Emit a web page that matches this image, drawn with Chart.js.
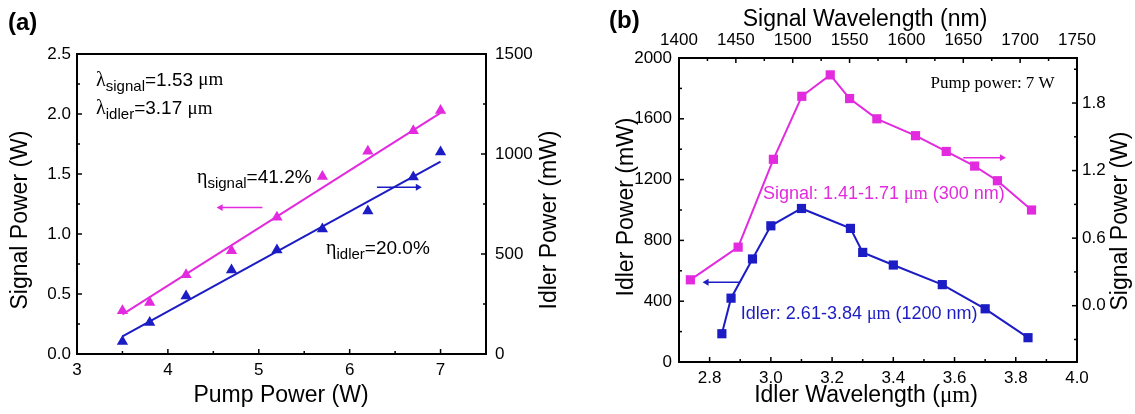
<!DOCTYPE html>
<html>
<head>
<meta charset="utf-8">
<script src="https://cdn.jsdelivr.net/npm/chart.js@4.4.1/dist/chart.umd.min.js"></script>
<style>
  body { margin: 0; background: #fff; }
  #wrap { position: relative; width: 1135px; height: 414px; }
  canvas { position: absolute; top: 0; }
</style>
</head>
<body>
<div id="wrap">
  <canvas id="chartA" width="565" height="414" style="left:0"></canvas>
  <canvas id="chartB" width="570" height="414" style="left:565px"></canvas>
</div>
<script>
// --- panel (a): power vs pump power ---
const pumpPower = [3.5, 3.8, 4.2, 4.7, 5.2, 5.7, 6.2, 6.7, 7.0];
const signalPowerA = [0.36, 0.43, 0.66, 0.86, 1.14, 1.48, 1.69, 1.86, 2.03];
const idlerPowerA = [63, 157, 290, 420, 520, 625, 715, 885, 1010];
const fitPump = [3.5, 7.0];
const fitSignal = [0.33, 2.01];
const fitIdler = [88, 962];
const arrowSignalAX = [5.04, 4.58];
const arrowSignalAY = [1.22, 1.22];
const arrowIdlerAX = [6.30, 6.75];
const arrowIdlerAY = [834, 834];

// --- panel (b): tuning curves ---
const signalWavelength = [1410, 1452, 1483, 1508, 1533, 1550, 1574, 1608, 1635, 1660, 1680, 1710];
const signalPowerB = [0.23, 0.52, 1.30, 1.86, 2.05, 1.84, 1.66, 1.51, 1.37, 1.24, 1.11, 0.85];
const idlerWavelength = [2.84, 2.87, 2.94, 3.00, 3.10, 3.26, 3.30, 3.40, 3.56, 3.70, 3.84];
const idlerPowerB = [186, 420, 678, 896, 1010, 879, 721, 638, 509, 350, 160];
const arrowSignalBX = [1650, 1684];
const arrowSignalBY = [1.315, 1.315];
const arrowIdlerBX = [2.896, 2.79];
const arrowIdlerBY = [525, 525];

// --- tick labels ---
const pumpTicks = [3, 4, 5, 6, 7];
const signalTicksA = [0, 0.5, 1, 1.5, 2, 2.5];
const idlerTicksA = [0, 500, 1000, 1500];
const idlerWlTicks = [2.8, 3.0, 3.2, 3.4, 3.6, 3.8, 4.0];
const signalWlTicks = [1400, 1450, 1500, 1550, 1600, 1650, 1700, 1750];
const idlerTicksB = [0, 400, 800, 1200, 1600, 2000];
const signalTicksB = [0, 0.6, 1.2, 1.8];

const MAG = '#e22ade';
const BLU = '#1c1cc4';
const SANS = '"Liberation Sans", Arial, sans-serif';
const SERIF = '"Liberation Serif", "Times New Roman", serif';
const TITLE = '23px ' + SANS;

Chart.defaults.font.family = SANS;
Chart.defaults.color = '#000';

// ticks every `step` from `first`, labels only on the listed values
function stepTicks(first, max, step) {
  return scale => {
    const t = [];
    for (let i = 0; first + i * step <= max + 1e-9; i++) t.push({ value: +(first + i * step).toFixed(6) });
    scale.ticks = t;
  };
}
function labelsFrom(list, digits) {
  return v => {
    const hit = list.find(m => Math.abs(m - v) < 1e-6);
    return hit === undefined ? '' : hit.toFixed(digits);
  };
}
function pts(xs, ys) {
  return xs.map((x, i) => ({ x: x, y: ys[i] }));
}
function axis(position, min, max, first, step, labels, digits, size, padding) {
  const vertical = position === 'left' || position === 'right';
  return {
    type: 'linear', position: position, min: min, max: max,
    afterBuildTicks: stepTicks(first, max, step),
    afterFit: s => { if (vertical) s.width = size; else s.height = size; },
    grid: { display: false, drawTicks: false },
    border: { display: false },
    ticks: { autoSkip: false, maxRotation: 0, padding: padding, font: { size: 17 }, color: '#000',
             callback: labelsFrom(labels, digits) }
  };
}

// frame round the plot plus inward tick marks
const frameTicks = {
  id: 'frameTicks',
  afterDatasetsDraw(chart) {
    const { ctx, chartArea: a } = chart;
    ctx.save();
    ctx.strokeStyle = '#000';
    ctx.lineWidth = 1.5;
    Object.values(chart.scales).forEach(s => {
      s.ticks.forEach(t => {
        const len = t.label !== '' ? 5 : 3;
        const p = s.getPixelForValue(t.value);
        ctx.beginPath();
        if (s.position === 'bottom') { ctx.moveTo(p, a.bottom); ctx.lineTo(p, a.bottom - len); }
        else if (s.position === 'top') { ctx.moveTo(p, a.top); ctx.lineTo(p, a.top + len); }
        else if (s.position === 'left') { ctx.moveTo(a.left, p); ctx.lineTo(a.left + len, p); }
        else { ctx.moveTo(a.right, p); ctx.lineTo(a.right - len, p); }
        ctx.stroke();
      });
    });
    ctx.lineWidth = 2;
    ctx.strokeRect(a.left, a.top, a.right - a.left, a.bottom - a.top);
    ctx.restore();
  }
};

// text made of runs with their own fonts (subscripts, greek letters)
function makeNotes(items) {
  return {
    id: 'notes',
    afterDraw(chart) {
      const ctx = chart.ctx;
      items.forEach(it => {
        let x = it.px, y = it.py;
        if (it.xAxis) {
          x = chart.scales[it.xAxis].getPixelForValue(it.x);
          y = chart.scales[it.yAxis].getPixelForValue(it.y);
        }
        ctx.save();
        ctx.translate(x, y);
        if (it.rotate) ctx.rotate(it.rotate * Math.PI / 180);
        ctx.fillStyle = it.color || '#000';
        ctx.textBaseline = 'middle';
        ctx.textAlign = 'left';
        let w = 0;
        it.parts.forEach(p => { ctx.font = p.font; w += ctx.measureText(p.t).width; });
        let cx = it.align === 'center' ? -w / 2 : it.align === 'right' ? -w : 0;
        it.parts.forEach(p => {
          ctx.font = p.font;
          ctx.fillText(p.t, cx, p.dy || 0);
          cx += ctx.measureText(p.t).width;
        });
        ctx.restore();
      });
    }
  };
}

const greek = '20px ' + SERIF;
const sub = '15px ' + SANS;
const main = '19px ' + SANS;

function arrow(xs, ys, color, rot, xAxisID, yAxisID) {
  return {
    data: pts(xs, ys), xAxisID: xAxisID, yAxisID: yAxisID, showLine: true,
    borderColor: color, borderWidth: 1.5, backgroundColor: color,
    pointStyle: 'triangle', pointRotation: rot, pointBorderWidth: 0,
    pointRadius: c => c.dataIndex === 1 ? 4 : 0
  };
}

// ---------- panel (a) ----------
new Chart(document.getElementById('chartA'), {
  type: 'scatter',
  data: {
    datasets: [
      { data: pts(pumpPower, signalPowerA), yAxisID: 'y', pointStyle: 'triangle', pointRadius: 6.5,
        backgroundColor: MAG, borderColor: MAG, borderWidth: 0 },
      { data: pts(pumpPower, idlerPowerA), yAxisID: 'y2', pointStyle: 'triangle', pointRadius: 6.5,
        backgroundColor: BLU, borderColor: BLU, borderWidth: 0 },
      { data: pts(fitPump, fitSignal), yAxisID: 'y', showLine: true, pointRadius: 0, borderColor: MAG, borderWidth: 2 },
      { data: pts(fitPump, fitIdler), yAxisID: 'y2', showLine: true, pointRadius: 0, borderColor: BLU, borderWidth: 2 },
      arrow(arrowSignalAX, arrowSignalAY, MAG, -90, 'x', 'y'),
      arrow(arrowIdlerAX, arrowIdlerAY, BLU, 90, 'x', 'y2')
    ]
  },
  options: {
    responsive: false,
    animation: false,
    layout: { padding: { top: 54, left: 0, right: 0, bottom: 0 } },
    plugins: { legend: { display: false }, tooltip: { enabled: false } },
    scales: {
      x: axis('bottom', 3, 7.5, 3, 0.5, pumpTicks, 0, 60, 6),
      y: axis('left', 0, 2.5, 0, 0.25, signalTicksA, 1, 77, 6),
      y2: axis('right', 0, 1500, 0, 250, idlerTicksA, 0, 79, 9)
    }
  },
  plugins: [frameTicks, makeNotes([
    { px: 8, py: 23, parts: [{ t: '(a)', font: 'bold 24px ' + SANS }] },
    { px: 21, py: 220, rotate: -90, align: 'center', parts: [{ t: 'Signal Power (W)', font: TITLE }] },
    { px: 550, py: 220, rotate: -90, align: 'center', parts: [{ t: 'Idler Power (mW)', font: TITLE }] },
    { px: 281, py: 396, align: 'center', parts: [{ t: 'Pump Power (W)', font: TITLE }] },
    { xAxis: 'x', yAxis: 'y', x: 3.21, y: 2.28, parts: [
      { t: 'λ', font: greek }, { t: 'signal', font: sub, dy: 6 }, { t: '=1.53 ', font: main }, { t: 'μm', font: '19px ' + SERIF }] },
    { xAxis: 'x', yAxis: 'y', x: 3.21, y: 2.045, parts: [
      { t: 'λ', font: greek }, { t: 'idler', font: sub, dy: 6 }, { t: '=3.17 ', font: main }, { t: 'μm', font: '19px ' + SERIF }] },
    { xAxis: 'x', yAxis: 'y', x: 4.32, y: 1.47, parts: [
      { t: 'η', font: greek }, { t: 'signal', font: sub, dy: 6 }, { t: '=41.2%', font: main }] },
    { xAxis: 'x', yAxis: 'y', x: 5.74, y: 0.88, parts: [
      { t: 'η', font: greek }, { t: 'idler', font: sub, dy: 6 }, { t: '=20.0%', font: main }] }
  ])]
});

// ---------- panel (b) ----------
new Chart(document.getElementById('chartB'), {
  type: 'scatter',
  data: {
    datasets: [
      { data: pts(signalWavelength, signalPowerB), xAxisID: 'x2', yAxisID: 'y2', showLine: true,
        pointStyle: 'rect', pointRadius: 6.5, backgroundColor: MAG, borderColor: MAG, borderWidth: 2, pointBorderWidth: 0 },
      { data: pts(idlerWavelength, idlerPowerB), xAxisID: 'x', yAxisID: 'y', showLine: true,
        pointStyle: 'rect', pointRadius: 6.5, backgroundColor: BLU, borderColor: BLU, borderWidth: 2, pointBorderWidth: 0 },
      arrow(arrowSignalBX, arrowSignalBY, MAG, 90, 'x2', 'y2'),
      arrow(arrowIdlerBX, arrowIdlerBY, BLU, -90, 'x', 'y')
    ]
  },
  options: {
    responsive: false,
    animation: false,
    layout: { padding: 0 },
    plugins: { legend: { display: false }, tooltip: { enabled: false } },
    scales: {
      x: axis('bottom', 2.7, 4.0, 2.7, 0.1, idlerWlTicks, 1, 52, 6),
      x2: axis('top', 1400, 1750, 1400, 25, signalWlTicks, 0, 58, 7),
      y: axis('left', 0, 2000, 0, 200, idlerTicksB, 0, 114, 7),
      y2: axis('right', -0.5, 2.2, -0.3, 0.3, signalTicksB, 1, 58, 5)
    }
  },
  plugins: [frameTicks, makeNotes([
    { px: 44, py: 21, parts: [{ t: '(b)', font: 'bold 24px ' + SANS }] },
    { px: 300, py: 20, align: 'center', parts: [{ t: 'Signal Wavelength (nm)', font: TITLE }] },
    { px: 301, py: 396, align: 'center', parts: [
      { t: 'Idler Wavelength (', font: TITLE }, { t: 'μm', font: '23px ' + SERIF }, { t: ')', font: TITLE }] },
    { px: 62, py: 207, rotate: -90, align: 'center', parts: [{ t: 'Idler Power (mW)', font: TITLE }] },
    { px: 556, py: 221, rotate: -90, align: 'center', parts: [{ t: 'Signal Power (W)', font: TITLE }] },
    { xAxis: 'x', yAxis: 'y', x: 3.927, y: 1829, align: 'right', parts: [{ t: 'Pump power: 7 W', font: '17px ' + SERIF }] },
    { xAxis: 'x', yAxis: 'y', x: 2.974, y: 1104, color: MAG, parts: [
      { t: 'Signal: 1.41-1.71 ', font: '18px ' + SANS }, { t: 'μm', font: '18px ' + SERIF }, { t: ' (300 nm)', font: '18px ' + SANS }] },
    { xAxis: 'x', yAxis: 'y', x: 2.902, y: 314, color: BLU, parts: [
      { t: 'Idler: 2.61-3.84 ', font: '18px ' + SANS }, { t: 'μm', font: '18px ' + SERIF }, { t: ' (1200 nm)', font: '18px ' + SANS }] }
  ])]
});
</script>
</body>
</html>
